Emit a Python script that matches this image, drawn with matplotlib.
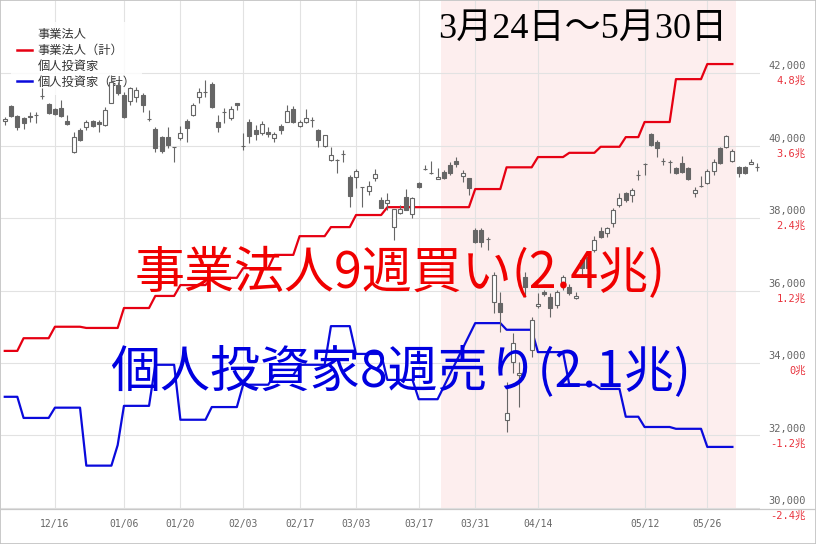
import numpy as np
import pandas as pd
import matplotlib
matplotlib.use('Agg')
import matplotlib.pyplot as plt
from matplotlib.lines import Line2D
from matplotlib.patches import Rectangle
from matplotlib.transforms import offset_copy

# trading days (TSE holidays removed)
holidays = ['2024-12-31', '2025-01-01', '2025-01-02', '2025-01-03', '2025-01-13',
            '2025-02-11', '2025-02-24', '2025-03-20', '2025-04-29', '2025-05-05', '2025-05-06']

opens = [
  40690, 41090, 40810, 40760, 40800, 40830, 41360, 41150,
  41010, 41040, 40680, 39820, 40430, 40510, 40680, 40650, 40570, 41170,
  41670, 41390, 41230, 41340, 41390, 40720, 40460, 40240, 40240, 39960,
  40210, 40680, 40840, 41340, 41470, 41700, 40650, 40920, 40760, 41170,
  39980, 40650, 40430, 40350, 40370, 40210, 40540, 40650, 41010, 40540,
  40650, 40700, 40430, 39990, 39600, 39600, 39760, 39130, 39130, 38850,
  38750, 39100, 38500, 38410, 37750, 38140, 38580, 38110, 38970, 39340,
  39230, 39080, 39270, 39460, 39570, 39160, 39100, 37670, 37670, 37410,
  35680, 35660, 32430, 34030, 33670, 36370, 34360, 35570, 35960, 35820,
  35600, 36210, 36100, 35790, 36840, 36920, 37120, 37640, 37590, 37860,
  38360, 38690, 38640, 39180, 39480, 40320, 40100, 39570, 39540, 39380,
  39520, 39380, 38690, 38880, 38970, 39300, 39930, 39960, 39570, 39410,
  39410, 39490, 39400]
highs = [
  40790, 41120, 40840, 40790, 40920, 40920, 41590, 41170,
  41040, 41260, 40840, 40370, 40480, 40700, 40700, 40700, 41060, 41950,
  41750, 41480, 41610, 41610, 41450, 40980, 40510, 40260, 40510, 39970,
  40540, 40730, 41170, 41590, 41810, 41750, 40840, 41040, 41090, 41180,
  40350, 40730, 40570, 40680, 40510, 40370, 40590, 41120, 41090, 40700,
  41010, 40790, 40460, 40290, 39960, 39630, 39880, 39190, 39350, 38860,
  39020, 39350, 38580, 38690, 38250, 38360, 38800, 38580, 38990, 39460,
  39570, 39380, 39320, 39550, 39680, 39320, 39100, 37720, 37720, 37480,
  36510, 35960, 33480, 34830, 34030, 36510, 35270, 35930, 36010, 35930,
  36010, 36430, 36180, 35960, 36900, 36980, 37500, 37750, 37750, 38290,
  38690, 38720, 38830, 39320, 39520, 40350, 40150, 39660, 39600, 39410,
  39710, 39410, 38860, 39160, 39350, 39630, 39960, 40290, 39900, 39440,
  39440, 39630, 39520]
lows = [
  40570, 40790, 40430, 40460, 40650, 40620, 41280, 40870,
  40840, 40790, 40570, 39790, 40120, 40430, 40510, 40370, 40540, 41170,
  41390, 40760, 41120, 41200, 40920, 40680, 39820, 39790, 39930, 39550,
  40150, 40100, 40810, 41170, 41340, 41040, 40370, 40620, 40700, 40980,
  39880, 40070, 40150, 40290, 40240, 40100, 40320, 40650, 40620, 40510,
  40620, 40510, 39960, 39960, 39570, 39240, 39550, 38300, 38830, 38300,
  38640, 39020, 38280, 38220, 37390, 38110, 38220, 38000, 38830, 39320,
  39210, 39080, 39080, 39190, 39410, 38990, 38640, 37310, 37200, 37120,
  35380, 34860, 32100, 33720, 32790, 35820, 34170, 35520, 35850, 35270,
  35520, 36010, 35880, 35770, 36430, 36570, 37060, 37450, 37480, 37750,
  38300, 38440, 38440, 39050, 39190, 39990, 39680, 39460, 39240, 39210,
  39240, 39050, 38580, 38860, 38940, 39190, 39490, 39930, 39550, 39130,
  39210, 39490, 39300]
closes = [
  40720, 40810, 40510, 40620, 40790, 40850, 41370, 40900,
  40870, 40810, 40590, 40240, 40150, 40650, 40540, 40590, 40980, 41750,
  41450, 40790, 41590, 41530, 41120, 40740, 39930, 39850, 40010, 39950,
  40350, 40480, 41120, 41480, 41480, 41060, 40510, 40930, 41010, 41120,
  40000, 40260, 40320, 40590, 40320, 40320, 40430, 40950, 40650, 40650,
  40760, 40710, 40150, 40290, 39740, 39610, 39770, 38610, 39300, 38860,
  38880, 39210, 38280, 38500, 38250, 38250, 38220, 38550, 38860, 39350,
  39240, 39130, 39100, 39240, 39490, 39240, 38830, 37340, 37340, 37420,
  36430, 35410, 32620, 34550, 33720, 36100, 35190, 35630, 35900, 35520,
  35960, 36370, 35930, 35850, 36620, 36620, 37390, 37480, 37720, 38220,
  38550, 38500, 38770, 39190, 39490, 40010, 39930, 39580, 39550, 39240,
  39270, 39080, 38770, 38890, 39300, 39550, 39520, 40260, 39850, 39240,
  39240, 39550, 39410]

# weekly cumulative net buying (trillion yen), weeks starting Monday 2024-12-02
week_starts = pd.date_range('2024-12-02', '2025-05-26', freq='W-MON')
corp_cum = [0.20, 0.41, 0.60, 0.58, 0.58, 0.91, 1.11, 1.29, 1.41, 1.57, 1.79, 2.10, 2.25,
            2.45, 2.58, 2.58, 2.58, 2.88, 3.24, 3.41, 3.48, 3.58, 3.74, 3.99, 4.70, 4.95]
indiv_cum = [-0.56, -0.91, -0.74, -1.70, -1.36, -0.71, -0.03, -0.94, -0.73, -0.36, -0.20, -0.03, 0.61,
             0.15, -0.28, -0.60, np.nan, 0.66, 0.55, 0.18, -0.36, -0.43, -0.89, -1.06, -1.09, -1.39]

tick_dates = ['2024-12-16', '2025-01-06', '2025-01-20', '2025-02-03', '2025-02-17', '2025-03-03',
              '2025-03-17', '2025-03-31', '2025-04-14', '2025-05-12', '2025-05-26']
price_ticks = [30000, 32000, 34000, 36000, 38000, 40000, 42000]

days = pd.bdate_range('2024-12-04', '2025-06-05')
days = days[~days.isin(pd.to_datetime(holidays))]
x = np.arange(len(days))

def to_price(v):
  # right scale: 0兆 at 34,000, 1.2兆 per 2,000
  return 34000 + np.asarray(v) / 1.2 * 2000

fig = plt.figure(figsize=(8.16, 5.44), dpi=100)
ax = fig.add_axes([1/816, 35/544, 759/816, 508/544])
ax.set_xlim(-0.6, 120.4)
ax.set_ylim(29970, 43990)

# highlighted period
s0 = days.get_loc(pd.Timestamp('2025-03-24'))
s1 = days.get_loc(pd.Timestamp('2025-05-30'))
ax.axvspan(s0 - 0.5, s1 + 0.5, color='#fdeeee', lw=0, zorder=0.2)

# candles
o = np.array(opens); c = np.array(closes)
up = c >= o
ax.vlines(x, lows, highs, color='#666666', lw=0.8, zorder=3)
ax.bar(x, np.maximum(np.abs(c - o), 15), bottom=np.minimum(o, c), width=0.64,
       color=np.where(up, 'white', '#666666'), edgecolor='#666666', linewidth=0.8, zorder=3.1)

# weekly cumulative lines
monday = days - pd.to_timedelta(days.weekday, unit='D')
corp_s = pd.Series(monday.map(dict(zip(week_starts, corp_cum))), index=x, dtype=float).dropna()
indiv_s = pd.Series(monday.map(dict(zip(week_starts, indiv_cum))), index=x, dtype=float).dropna()
ax.plot(corp_s.index, to_price(corp_s.values), color='#e60012', lw=1.6, zorder=2)
ax.plot(indiv_s.index, to_price(indiv_s.values), color='#0a0adc', lw=1.6, zorder=2)

# axes styling
tpos = days.get_indexer(pd.to_datetime(tick_dates))
ax.set_xticks(tpos, [days[i].strftime('%m/%d') for i in tpos])
ax.set_yticks(price_ticks)
ax.tick_params(axis='x', length=0, pad=7, labelsize=7, labelcolor='#666666')
ax.tick_params(axis='y', length=0, labelleft=False, labelright=False)
for lab in ax.get_xticklabels():
  lab.set_family('DejaVu Sans Mono')
ax.grid(True, color='#e2e2e2', lw=0.8)
ax.set_axisbelow(True)
for sp in ax.spines.values():
  sp.set_visible(False)

# right-hand labels: price above gridline, trillion yen below
tr_up = offset_copy(ax.get_yaxis_transform(), fig=fig, x=33, y=5, units='points')
tr_dn = offset_copy(ax.get_yaxis_transform(), fig=fig, x=33, y=-5.8, units='points')
for p in price_ticks:
  t = (p - 34000) / 2000 * 1.2
  ax.text(1, p, f'{p:,}', transform=tr_up, ha='right', va='center', fontsize=7.5,
          color='#666666', family='DejaVu Sans Mono', clip_on=False)
  lab = '0兆' if abs(t) < 1e-9 else f'{t:.1f}兆'
  ax.text(1, p, lab, transform=tr_dn, ha='right', va='center', fontsize=7.5,
          color='#e8323c', family=['DejaVu Sans Mono', 'Noto Sans CJK JP'], clip_on=False)

# legend
handles = [Line2D([], [], color='none'), Line2D([], [], color='#e60012', lw=1.8),
           Line2D([], [], color='none'), Line2D([], [], color='#0a0adc', lw=1.8)]
labels = ['事業法人', '事業法人（計）', '個人投資家', '個人投資家（計）']
leg = ax.legend(handles, labels, loc='upper left', bbox_to_anchor=(0.013, 0.958),
                prop={'family': 'Noto Sans CJK JP', 'size': 8.8}, frameon=True,
                facecolor='white', framealpha=0.8, edgecolor='none', fancybox=False,
                handlelength=1.2, handletextpad=0.5, labelspacing=0.22, borderpad=0.5,
                borderaxespad=0)
leg.set_zorder(2.8)
for t in leg.get_texts():
  t.set_color('#333333')

# annotations
serif = ['Liberation Serif', 'Noto Sans CJK JP']
sans = ['Noto Sans CJK JP', 'DejaVu Sans']
fig.text(583/816, 1 - 29/544, '3月24日～5月30日', ha='center', va='center',
         fontsize=26, color='black', family=serif, zorder=4)
fig.text(400/816, 1 - 274/544, '事業法人9週買い(2.4兆)', ha='center', va='center',
         fontsize=36, color='#f00000', family=sans, zorder=2.5)
fig.text(400/816, 1 - 372/544, '個人投資家8週売り(2.1兆)', ha='center', va='center',
         fontsize=36, color='#0000e0', family=sans, zorder=2.5)

# frame and baseline
fig.add_artist(Line2D([0, 1], [35/544, 35/544], transform=fig.transFigure, color='#c8c8c8', lw=0.9))
fig.add_artist(Rectangle((0, 0), 1, 1, transform=fig.transFigure, fill=False,
                         edgecolor='#c0c0c0', lw=1.2))

fig.savefig('out.png', dpi=100)
